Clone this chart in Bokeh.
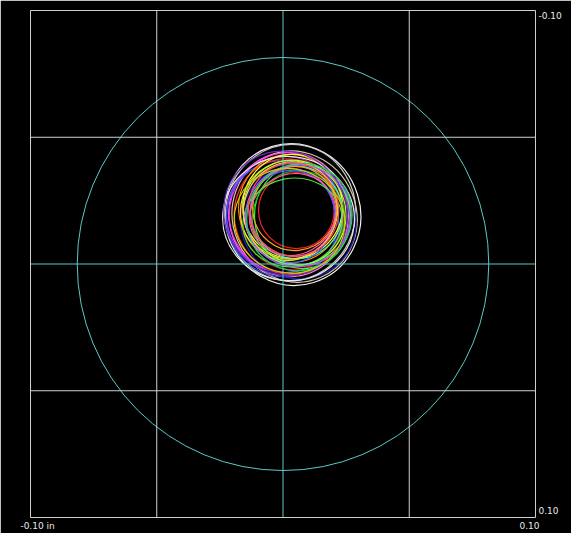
from bokeh.plotting import figure
from bokeh.models import Range1d, Span, LinearAxis, FixedTicker
from bokeh.embed import file_html
from bokeh.resources import INLINE

# ---- data ----
grid_ticks = [-0.05, 0.05]
center_tick = 0.0
ref_circle_diameter = 0.163  # cyan reference circle (radius ~0.0815 in)

# orbit loops (inches): centre x, centre y, width, height, tilt, colour
loop_cx = [0.0038, 0.0030, 0.0046, 0.0022, 0.0014, 0.0006, -0.0002, 0.0061,
           0.0022, 0.0038, 0.0030, 0.0038, 0.0022, 0.0069, 0.0077, 0.0061,
           0.0053, 0.0053, 0.0038, 0.0030, 0.0046, 0.0038, 0.0053, 0.0038,
           0.0022, 0.0046, 0.0030, 0.0061, 0.0010, 0.0065, 0.0042, 0.0026]
loop_cy = [-0.0195, -0.0203, -0.0187, -0.0195, -0.0203, -0.0195, -0.0179, -0.0164,
           -0.0187, -0.0195, -0.0219, -0.0227, -0.0211, -0.0195, -0.0187, -0.0179,
           -0.0203, -0.0211, -0.0203, -0.0187, -0.0219, -0.0195, -0.0195, -0.0164,
           -0.0179, -0.0203, -0.0211, -0.0190, -0.0200, -0.0185, -0.0215, -0.0170]
loop_w = [0.0538, 0.0514, 0.0490, 0.0474, 0.0451, 0.0458, 0.0443, 0.0458,
          0.0427, 0.0411, 0.0411, 0.0395, 0.0379, 0.0395, 0.0379, 0.0364,
          0.0364, 0.0300, 0.0332, 0.0348, 0.0332, 0.0348, 0.0427, 0.0395,
          0.0522, 0.0400, 0.0370, 0.0420, 0.0480, 0.0410, 0.0355, 0.0440]
loop_h = [0.0561, 0.0538, 0.0522, 0.0490, 0.0474, 0.0458, 0.0458, 0.0443,
          0.0458, 0.0435, 0.0427, 0.0411, 0.0395, 0.0395, 0.0411, 0.0379,
          0.0364, 0.0300, 0.0348, 0.0364, 0.0332, 0.0316, 0.0395, 0.0348,
          0.0490, 0.0420, 0.0385, 0.0400, 0.0500, 0.0430, 0.0370, 0.0410]
loop_angle = [0.3, -0.2, 0.4, 0.1, -0.3, 0.0, 0.2, -0.4,
              0.3, -0.1, 0.2, 0.0, -0.3, 0.4, 0.1, -0.2,
              0.0, 0.0, 0.3, -0.2, 0.1, 0.5, -0.5, 0.2,
              -0.1, 0.6, -0.4, 0.2, 0.7, -0.6, 0.3, -0.3]
loop_color = ["#f0f0f0", "#c8c8c8", "#d8c8a0", "#ff80c0", "#ff30ff", "#9040ff", "#3050ff", "#2020c0",
              "#ff3030", "#c01010", "#ff8c00", "#ffff30", "#e8e040", "#90ff20", "#30ff30", "#10b020",
              "#40ffb0", "#ff2020", "#e040e0", "#4060ff", "#ffa020", "#ff60a0", "#8050e0", "#50e030",
              "#e8e8e8", "#a0ff40", "#ffd040", "#c050ff", "#6a2cc0", "#20d060", "#ff5050", "#d0d000"]

# axis labels: tick value -> text
x_label_ticks = [-0.0972, 0.0976]
x_label_text = ["-0.10 in", "0.10"]
y_label_ticks = [-0.0982, 0.0972]
y_label_text = ["-0.10", "0.10"]

p = figure(frame_width=505, frame_height=507,
           x_range=Range1d(-0.1, 0.1), y_range=Range1d(0.1, -0.1),
           x_axis_location=None, y_axis_location=None,
           output_backend="svg", toolbar_location=None,
           min_border_left=30, min_border_right=36,
           min_border_top=10, min_border_bottom=16)
p.background_fill_color = "black"
p.border_fill_color = "black"
p.outline_line_color = "#d0d0d0"
p.outline_line_width = 1
p.xgrid.visible = False
p.ygrid.visible = False

for t in grid_ticks:
    p.add_layout(Span(location=t, dimension="height", line_color="#d0d0d0", line_width=1))
    p.add_layout(Span(location=t, dimension="width", line_color="#d0d0d0", line_width=1))
p.add_layout(Span(location=center_tick, dimension="height", line_color="#5cc8c8", line_width=1))
p.add_layout(Span(location=center_tick, dimension="width", line_color="#5cc8c8", line_width=1))

p.ellipse(x=[center_tick], y=[center_tick], width=[ref_circle_diameter], height=[ref_circle_diameter],
          fill_alpha=0, line_color="#5cc8c8", line_width=1)

p.ellipse(x=loop_cx, y=loop_cy, width=loop_w, height=loop_h, angle=loop_angle,
          fill_alpha=0, line_color=loop_color, line_width=1.2)

def make_axis(ticks, texts):
    ax = LinearAxis(ticker=FixedTicker(ticks=ticks),
                    major_label_overrides={t: s for t, s in zip(ticks, texts)})
    ax.axis_line_color = None
    ax.major_tick_line_color = None
    ax.minor_tick_line_color = None
    ax.major_tick_out = 0
    ax.major_tick_in = 0
    ax.major_label_standoff = 3
    ax.major_label_text_color = "#e8e8e8"
    ax.major_label_text_font = "DejaVu Sans"
    ax.major_label_text_font_size = "9px"
    return ax

p.add_layout(make_axis(x_label_ticks, x_label_text), "below")
p.add_layout(make_axis(y_label_ticks, y_label_text), "right")

open("out.html", "w").write(file_html(p, INLINE))
